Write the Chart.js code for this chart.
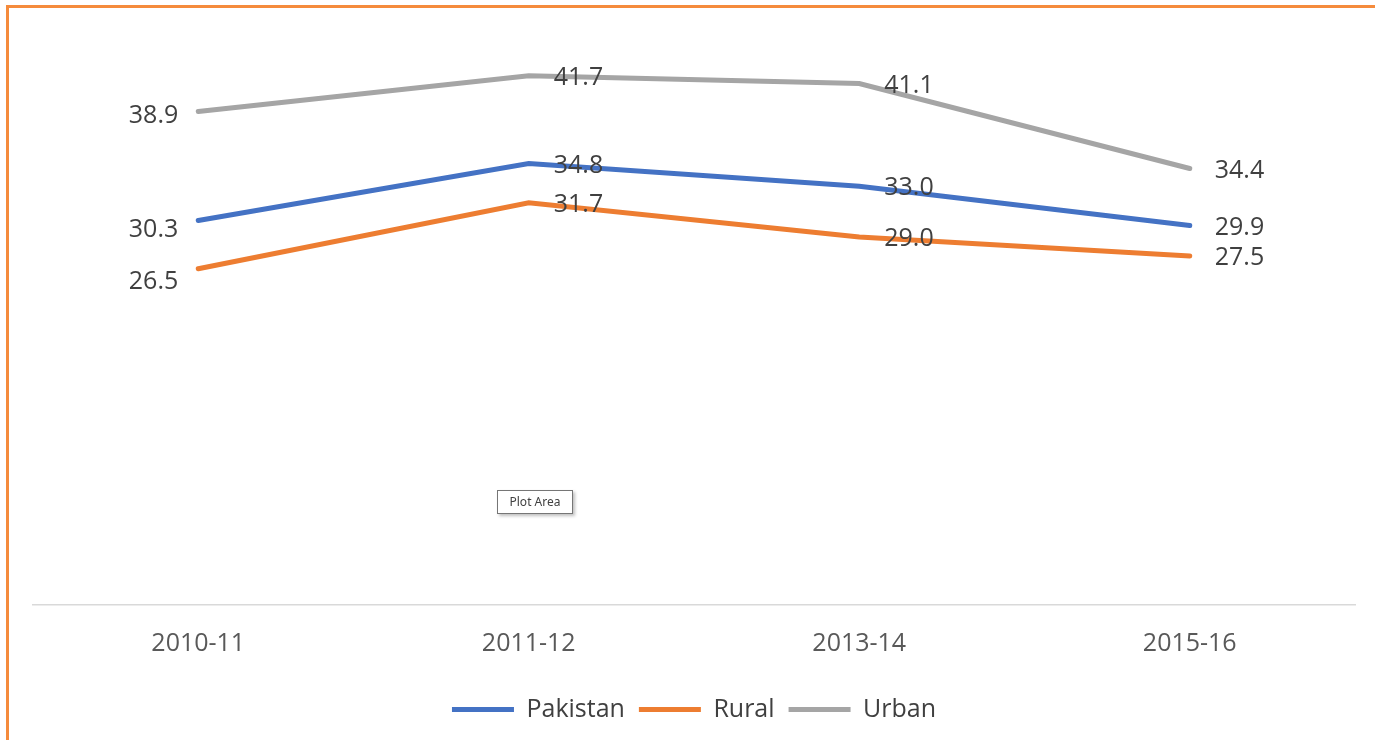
<!DOCTYPE html>
<html>
<head>
<meta charset="utf-8">
<script src="https://cdn.jsdelivr.net/npm/chart.js@4.4.1/dist/chart.umd.min.js"></script>
<style>
  html, body { margin: 0; padding: 0; background: #fff; }
  #frame {
    position: absolute; left: 6px; top: 5px; width: 1366px; height: 740px;
    border-top: 3px solid #F58B3C; border-left: 3px solid #F58B3C; border-right: 1px solid #F9C8A2;
  }
  #wrap { position: absolute; left: 0; top: 0; width: 1375px; height: 740px; }
  #tip {
    position: absolute; left: 497px; top: 490px; width: 74px; height: 22px;
    border: 1px solid #767676; background: #fff; box-shadow: 2px 2px 3px rgba(0,0,0,0.25);
    font: 12px "Noto Sans", sans-serif; color: #404040; text-align: center; line-height: 22px;
  }
</style>
</head>
<body>
<div id="frame"></div>
<div id="wrap"><canvas id="cv"></canvas></div>
<div id="tip">Plot Area</div>
<script>
const years = ['2010-11', '2011-12', '2013-14', '2015-16'];
const pakistan = [30.3, 34.8, 33.0, 29.9];
const rural = [26.5, 31.7, 29.0, 27.5];
const urban = [38.9, 41.7, 41.1, 34.4];

// draws the value next to every point
const valueLabels = {
    id: 'valueLabels',
    afterDatasetsDraw(chart) {
        const ctx = chart.ctx;
        const firstDy = [9, 13, 4];
        ctx.save();
        ctx.font = '25px "Open Sans", sans-serif';
        ctx.fillStyle = '#404040';
        ctx.textBaseline = 'middle';
        chart.data.datasets.forEach((ds, i) => {
            chart.getDatasetMeta(i).data.forEach((pt, j) => {
                const txt = ds.data[j].toFixed(1);
                if (j === 0) {
                    ctx.textAlign = 'right';
                    ctx.fillText(txt, pt.x - 20, pt.y + firstDy[i]);
                } else {
                    ctx.textAlign = 'left';
                    ctx.fillText(txt, pt.x + 25, pt.y + 2);
                }
            });
        });
        ctx.restore();
    }
};

new Chart(document.getElementById('cv'), {
    type: 'line',
    data: {
        labels: years,
        datasets: [
            { label: 'Pakistan', data: pakistan, borderColor: '#4472C4', backgroundColor: '#4472C4' },
            { label: 'Rural', data: rural, borderColor: '#ED7D31', backgroundColor: '#ED7D31' },
            { label: 'Urban', data: urban, borderColor: '#A5A5A5', backgroundColor: '#A5A5A5' }
        ]
    },
    options: {
        responsive: true,
        maintainAspectRatio: false,
        animation: false,
        elements: {
            line: { borderWidth: 5, tension: 0, borderCapStyle: 'round' },
            point: { radius: 0, hoverRadius: 0 }
        },
        layout: { padding: { left: 33, right: 20, top: 34, bottom: 8 } },
        plugins: {
            tooltip: { enabled: false },
            legend: {
                position: 'bottom',
                labels: {
                    boxWidth: 62,
                    boxHeight: 5,
                    padding: 14,
                    color: '#404040',
                    font: { family: '"Open Sans", sans-serif', size: 25 },
                    generateLabels(chart) {
                        return chart.data.datasets.map((ds, i) => ({
                            text: ds.label,
                            fillStyle: ds.borderColor,
                            strokeStyle: ds.borderColor,
                            lineWidth: 0,
                            fontColor: '#404040',
                            datasetIndex: i
                        }));
                    }
                }
            }
        },
        scales: {
            x: {
                offset: true,
                grid: { display: false, drawTicks: false },
                border: { display: true, color: '#D9D9D9', width: 1.5 },
                ticks: { color: '#595959', padding: 24, font: { family: '"Open Sans", sans-serif', size: 25 } }
            },
            y: { display: false, min: 0, max: 45 }
        }
    },
    plugins: [valueLabels]
});
</script>
</body>
</html>
